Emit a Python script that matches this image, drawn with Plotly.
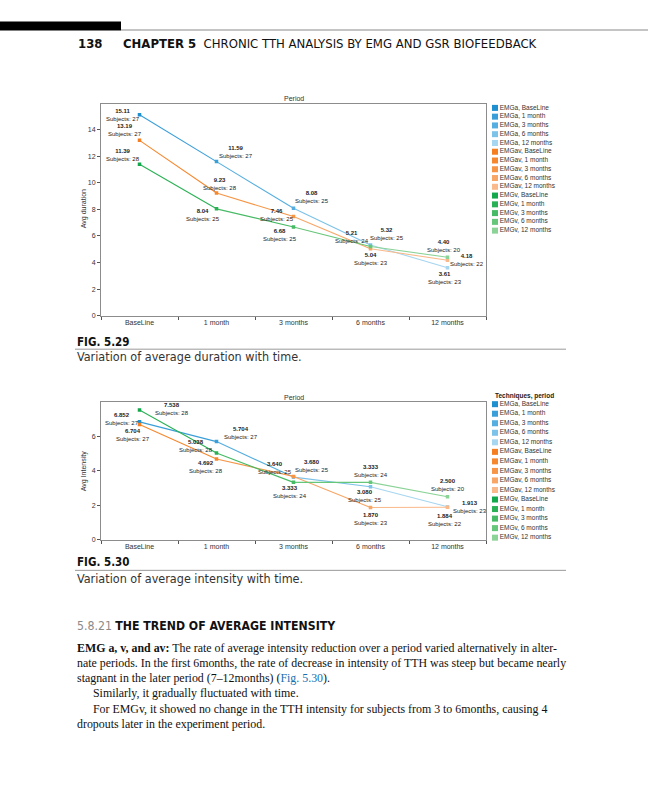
import plotly.graph_objects as go

# ---------------- data ----------------
periods = ["BaseLine", "1 month", "3 months", "6 months", "12 months"]
techniques = ["EMGa", "EMGav", "EMGv"]

duration_emga = [15.11, 11.59, 8.08, 5.32, 3.61]
duration_emgav = [13.19, 9.23, 7.46, 5.04, 4.18]
duration_emgv = [11.39, 8.04, 6.68, 5.21, 4.40]
dur_subjects_emga = [27, 27, 25, 25, 23]
dur_subjects_emgav = [27, 28, 25, 23, 22]
dur_subjects_emgv = [28, 25, 25, 24, 20]

intensity_emga = [6.852, 5.704, 3.640, 3.080, 1.913]
intensity_emgav = [6.704, 4.692, 3.680, 1.870, 1.884]
intensity_emgv = [7.538, 5.038, 3.333, 3.333, 2.500]
int_subjects_emga = [27, 27, 25, 25, 23]
int_subjects_emgav = [27, 28, 25, 23, 22]
int_subjects_emgv = [28, 28, 24, 24, 20]

dur_yticks = [0, 2, 4, 6, 8, 10, 12, 14]
int_yticks = [0, 2, 4, 6]

# ---------------- styles ----------------
W, H = 648, 800
palette = {
    "EMGa": ["#1E8FCF", "#3A9ED8", "#55AEDF", "#7DC2E8", "#A6D6F0"],
    "EMGav": ["#F47E20", "#F5882E", "#F69545", "#F8A666", "#FAB98A"],
    "EMGv": ["#12A84B", "#2BB155", "#46BA64", "#66C679", "#8BD396"],
}
# label offsets (px) per technique per period: (xshift, yshift)
dur_offsets = {
    "EMGa": [(-17, 0), (19, 10), (18, 11), (16, 11), (-3, -10)],
    "EMGav": [(-15, 10), (3, 9), (-17, 2), (0, -10), (19, 0)],
    "EMGv": [(-17, 9), (-14, -6), (-14, -8), (-19, 10), (-4, 11)],
}
int_offsets = {
    "EMGa": [(-18, 3), (24, 9), (-19, 9), (-6, -9), (22, 0)],
    "EMGav": [(-7, -11), (-11, -8), (18, 10), (0, -11), (-3, -13)],
    "EMGv": [(32, 1), (-21, 7), (-4, -10), (0, 11), (0, 12)],
}

SANS = "Liberation Sans, Arial, sans-serif"
NARROW = "Liberation Sans Narrow, Arial Narrow, DejaVu Sans Condensed, Liberation Sans, sans-serif"
SERIF = "Liberation Serif, Times New Roman, serif"


def px_x(p):
    return p / W


def px_y(p):
    return 1 - p / H


fig = go.Figure()
annotations = []
shapes = []

charts = [
    dict(xa="x", ya="y",
         values={"EMGa": duration_emga, "EMGav": duration_emgav, "EMGv": duration_emgv},
         subjects={"EMGa": dur_subjects_emga, "EMGav": dur_subjects_emgav, "EMGv": dur_subjects_emgv},
         offsets=dur_offsets, fmt="{:.2f}"),
    dict(xa="x2", ya="y2",
         values={"EMGa": intensity_emga, "EMGav": intensity_emgav, "EMGv": intensity_emgv},
         subjects={"EMGa": int_subjects_emga, "EMGav": int_subjects_emgav, "EMGv": int_subjects_emgv},
         offsets=int_offsets, fmt="{:.3f}"),
]

for ch in charts:
    for t in techniques:
        vals = ch["values"][t]
        cols = palette[t]
        for k in range(1, len(periods)):
            fig.add_trace(go.Scatter(
                x=[periods[k - 1], periods[k]], y=[vals[k - 1], vals[k]],
                mode="lines", line=dict(color=cols[k], width=1.1),
                xaxis=ch["xa"], yaxis=ch["ya"], showlegend=False, hoverinfo="skip"))
        fig.add_trace(go.Scatter(
            x=periods, y=vals, mode="markers",
            marker=dict(color=cols, size=3.5, symbol="square"),
            xaxis=ch["xa"], yaxis=ch["ya"], showlegend=False))
        for k, p in enumerate(periods):
            dx, dy = ch["offsets"][t][k]
            annotations.append(dict(
                x=p, y=vals[k], xref=ch["xa"], yref=ch["ya"],
                text="<b>" + ch["fmt"].format(vals[k]) + "</b><br>Subjects: " + str(ch["subjects"][t][k]),
                showarrow=False, xshift=dx, yshift=dy, xanchor="center", yanchor="middle",
                font=dict(family=SANS, size=6, color="#222"), align="center"))

# legend rows via hidden axes
legend_labels = [t + ", " + p for t in techniques for p in periods]
legend_colors = [palette[t][k] for t in techniques for k in range(len(periods))]
legend_rows = list(range(len(legend_labels)))
for xa, ya in (("x3", "y3"), ("x4", "y4")):
    fig.add_trace(go.Scatter(
        x=[0] * len(legend_rows), y=legend_rows, mode="markers+text",
        marker=dict(color=legend_colors, size=6, symbol="square"),
        text=legend_labels, textposition="middle right",
        textfont=dict(family=SANS, size=6.5, color="#333"),
        cliponaxis=False, xaxis=xa, yaxis=ya, showlegend=False, hoverinfo="skip"))

axis_common = dict(showline=True, mirror=True, linecolor="#8c8c8c", linewidth=1,
                   showgrid=False, zeroline=False, ticks="outside", ticklen=3,
                   tickcolor="#555", tickfont=dict(family=SANS, size=7, color="#333"))

hidden = dict(visible=False, showgrid=False, zeroline=False)
fig.update_layout(
    width=W, height=H, margin=dict(l=0, r=0, t=0, b=0),
    paper_bgcolor="white", plot_bgcolor="white", showlegend=False,
    xaxis=dict(domain=[px_x(101), px_x(486)], anchor="y", type="category",
               categoryorder="array", categoryarray=periods, range=[-0.5, 4.5],
               tickson="boundaries", **axis_common),
    yaxis=dict(domain=[px_y(317), px_y(104)], anchor="x", range=[0, 15.95],
               tickvals=dur_yticks, **axis_common),
    xaxis2=dict(domain=[px_x(101), px_x(486)], anchor="y2", type="category",
                categoryorder="array", categoryarray=periods, range=[-0.5, 4.5],
                tickson="boundaries", **axis_common),
    yaxis2=dict(domain=[px_y(541.7), px_y(404)], anchor="x2", range=[0, 7.98],
                tickvals=int_yticks, **axis_common),
    xaxis3=dict(domain=[px_x(495), px_x(640)], anchor="y3", range=[0, 10], **hidden),
    yaxis3=dict(domain=[px_y(108.3 + 14.5 * 8.8), px_y(108.3 - 0.5 * 8.8)], anchor="x3",
                range=[14.5, -0.5], **hidden),
    xaxis4=dict(domain=[px_x(495), px_x(640)], anchor="y4", range=[0, 10], **hidden),
    yaxis4=dict(domain=[px_y(405.7 + 14.5 * 9.57), px_y(405.7 - 0.5 * 9.57)], anchor="x4",
                range=[14.5, -0.5], **hidden),
)


def text(x, y, s, size, family=SANS, color="#111", xanchor="left", angle=0):
    annotations.append(dict(x=px_x(x), y=px_y(y), xref="paper", yref="paper", text=s,
                            showarrow=False, xanchor=xanchor, yanchor="middle",
                            textangle=angle,
                            font=dict(family=family, size=size, color=color)))


# chart titles / axis titles
text(293.5, 99, "Period", 7, xanchor="center", color="#333")
text(293.5, 399, "Period", 7, xanchor="center", color="#333")
text(84, 210, "Avg duration", 7, xanchor="center", color="#333", angle=-90)
text(84, 473, "Avg Intensity", 7, xanchor="center", color="#333", angle=-90)
text(493, 397, "<b>Techniques, period</b>", 6.5, color="#222")

# page header
shapes.append(dict(type="rect", xref="paper", yref="paper", x0=0, x1=px_x(121),
                   y0=px_y(30.7), y1=px_y(21.5), fillcolor="black", line=dict(width=0)))
shapes.append(dict(type="line", xref="paper", yref="paper", x0=px_x(121), x1=1,
                   y0=px_y(30), y1=px_y(30), line=dict(color="#b0b0b0", width=1.5)))
text(76, 43.5, "<b>138</b>", 13, family=NARROW)
text(121, 43.5, "<b>CHAPTER 5</b>  CHRONIC TTH ANALYSIS BY EMG AND GSR BIOFEEDBACK", 13, family=NARROW)

# figure captions
text(75, 343, "<b>FIG. 5.29</b>", 11.5, family=NARROW)
shapes.append(dict(type="line", xref="paper", yref="paper", x0=px_x(75), x1=px_x(566),
                   y0=px_y(350.5), y1=px_y(350.5), line=dict(color="#999", width=1)))
text(75, 357.5, "Variation of average duration with time.", 12.5, family=NARROW, color="#333")

text(75, 564, "<b>FIG. 5.30</b>", 11.5, family=NARROW)
shapes.append(dict(type="line", xref="paper", yref="paper", x0=px_x(75), x1=px_x(566),
                   y0=px_y(572.5), y1=px_y(572.5), line=dict(color="#999", width=1)))
text(75, 580.5, "Variation of average intensity with time.", 12.5, family=NARROW, color="#333")

# section text
text(75, 628.5, "<span style='color:#8a8a8a'>5.8.21</span> <b>THE TREND OF AVERAGE INTENSITY</b>",
     12.2, family=NARROW)
body = [
    (75, 650, "<b>EMG a, v, and av:</b> The rate of average intensity reduction over a period varied alternatively in alter-"),
    (75, 665.3, "nate periods. In the first 6months, the rate of decrease in intensity of TTH was steep but became nearly"),
    (75, 680.6, "stagnant in the later period (7–12months) (<span style='color:#1a6fb0'>Fig. 5.30</span>)."),
    (91, 695.8, "Similarly, it gradually fluctuated with time."),
    (91, 711.5, "For EMGv, it showed no change in the TTH intensity for subjects from 3 to 6months, causing 4"),
    (75, 726.8, "dropouts later in the experiment period."),
]
for x, y, s in body:
    text(x, y, s, 11.9, family=SERIF, color="#111")

fig.update_layout(annotations=annotations, shapes=shapes)
fig.write_html("out.html", config={"displayModeBar": False},
               post_script="document.body.style.margin='0px';")
